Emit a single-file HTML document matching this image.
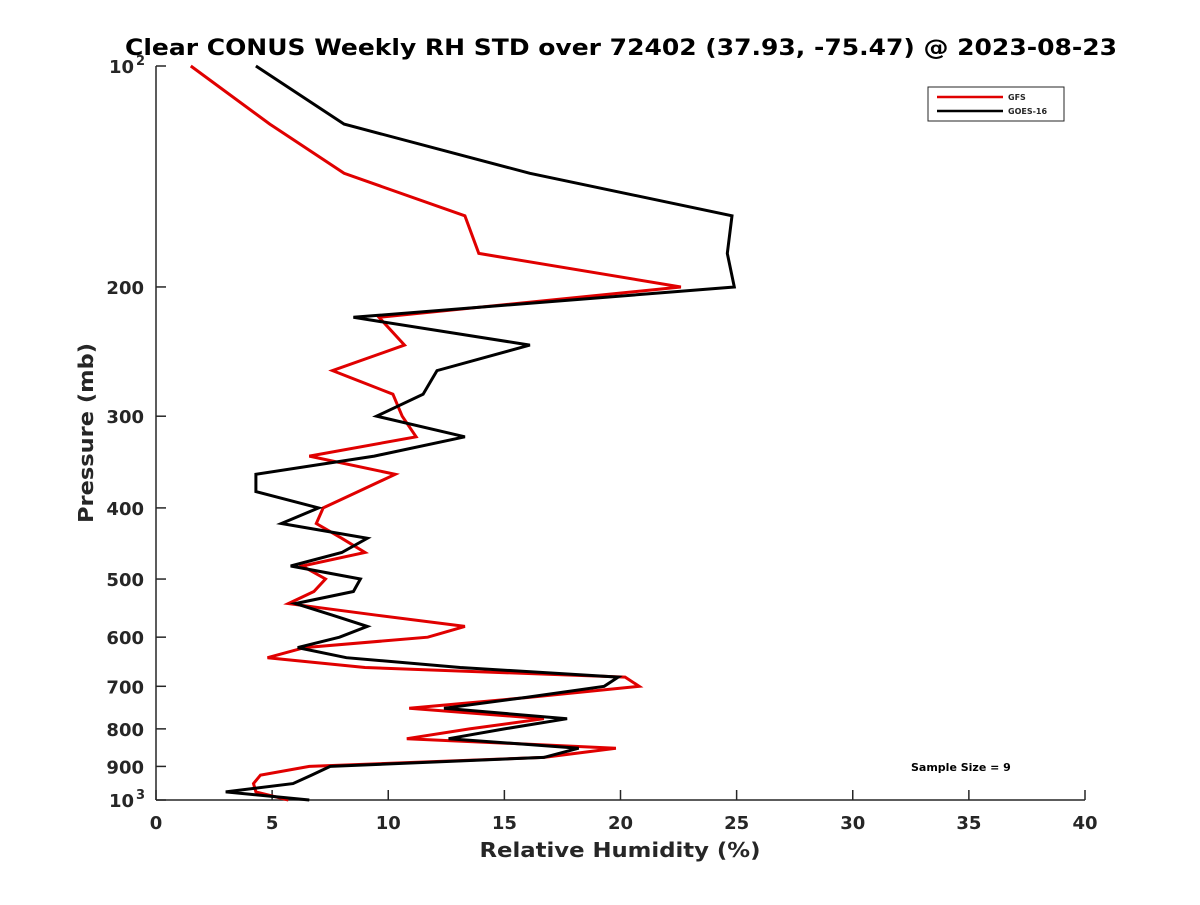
<!DOCTYPE html>
<html><head><meta charset="utf-8"><style>
body{margin:0;background:#fff;}
svg text{font-family:"DejaVu Sans","Liberation Sans",sans-serif;font-weight:bold;fill:#262626;}
</style></head><body>
<svg id="chart" width="1200" height="900" xmlns="http://www.w3.org/2000/svg">
<rect width="1200" height="900" fill="#fff"/>
<text x="621" y="55" font-size="22" text-anchor="middle" textLength="992" lengthAdjust="spacingAndGlyphs" style="fill:#000">Clear CONUS Weekly RH STD over 72402 (37.93, -75.47) @ 2023-08-23</text>
<g id="axes"></g>
<g id="series"></g>
<text x="620" y="857" font-size="20" text-anchor="middle" textLength="281" lengthAdjust="spacingAndGlyphs">Relative Humidity (%)</text>
<text x="0" y="0" font-size="20" text-anchor="middle" textLength="180" lengthAdjust="spacingAndGlyphs" transform="translate(93,433) rotate(-90)">Pressure (mb)</text>
<g>
<rect x="928" y="87" width="136" height="34" fill="#fff" stroke="#262626" stroke-width="1"/>
<line x1="937" y1="97" x2="1003" y2="97" stroke="#e00000" stroke-width="2.5"/>
<text x="1008" y="100" font-size="8">GFS</text>
<line x1="937" y1="111" x2="1003" y2="111" stroke="#000" stroke-width="2.5"/>
<text x="1008" y="114" font-size="8">GOES-16</text>
</g>
<text x="911" y="771" font-size="11" style="fill:#000">Sample Size = 9</text>
</svg>
<script>
const pressureLevels=[100,120,140,160,180,200,220,240,260,280,300,320,340,360,380,400,420,440,460,480,500,520,540,560,580,600,620,640,660,680,700,725,750,775,800,825,850,875,900,925,950,975,1000];
const gfsValues=[1.5,4.9,8.1,13.3,13.9,22.6,9.6,10.7,7.6,10.2,10.6,11.2,6.6,10.3,8.7,7.2,6.9,8.0,9.0,6.3,7.3,6.8,5.7,9.5,13.3,11.7,6.4,4.8,9.0,20.2,20.8,16.0,10.9,16.7,13.5,10.8,19.8,16.7,6.6,4.5,4.2,4.3,5.7];
const goesValues=[4.3,8.1,16.1,24.8,24.6,24.9,8.5,16.1,12.1,11.5,9.5,13.3,9.4,4.3,4.3,7.0,5.4,9.1,8.0,5.8,8.8,8.5,6.0,7.6,9.1,7.9,6.1,8.2,13.1,19.9,19.3,15.9,12.4,17.7,15.0,12.6,18.2,16.7,7.5,6.7,5.9,3.0,6.6];
const xTicks=[0,5,10,15,20,25,30,35,40];
const yTicks=[100,200,300,400,500,600,700,800,900,1000];
const yTickLabels=["10^2","200","300","400","500","600","700","800","900","10^3"];
const X0=156,X1=1085,Y0=66,Y1=800;
const xs=v=>X0+(v-0)/40*(X1-X0);
const ys=p=>Y0+(Math.log10(p)-2)*(Y1-Y0);
const NS="http://www.w3.org/2000/svg";
const ax=document.getElementById('axes'),se=document.getElementById('series');
function mk(tag,attrs,parent){const e=document.createElementNS(NS,tag);for(const k in attrs)e.setAttribute(k,attrs[k]);parent.appendChild(e);return e;}
let a=mk('line',{x1:X0,y1:Y0,x2:X0,y2:Y1,stroke:'#262626','stroke-width':1.5},ax);


a=mk('line',{x1:X0,y1:Y1,x2:X1,y2:Y1,stroke:'#262626','stroke-width':1.5},ax);


xTicks.forEach(v=>{const x=xs(v);
 mk('line',{x1:x,y1:Y1,x2:x,y2:Y1-10,stroke:'#262626','stroke-width':1.5},ax);
 const t=mk('text',{x:x,y:Y1+29,'font-size':18,'text-anchor':'middle'},ax);t.textContent=v;
 
 
});
yTicks.forEach((p,i)=>{const y=ys(p);
 mk('line',{x1:X0,y1:y,x2:X0+10,y2:y,stroke:'#262626','stroke-width':1.5},ax);
 const lab=yTickLabels[i];
 if(lab.indexOf('^')>=0){
  const parts=lab.split('^');
  const t=mk('text',{x:X0-22,y:y+7,'font-size':18,'text-anchor':'end'},ax);t.textContent=parts[0];
  
  
  const s=mk('text',{x:X0-11,y:y-1,'font-size':13,'text-anchor':'end'},ax);s.textContent=parts[1];
  
  
 } else {
  const t=mk('text',{x:X0-12,y:y+7,'font-size':18,'text-anchor':'end'},ax);t.textContent=lab;
  
  
 }
});
function line(vals,color,name){
 const pts=vals.map((v,i)=>xs(v).toFixed(1)+','+ys(pressureLevels[i]).toFixed(1)).join(' ');
 const l=mk('polyline',{points:pts,fill:'none',stroke:color,'stroke-width':3,'stroke-linejoin':'miter'},se);
 
 
}
line(gfsValues,'#e00000','gfs-line');
line(goesValues,'#000000','goes16-line');
</script>
</body></html>
